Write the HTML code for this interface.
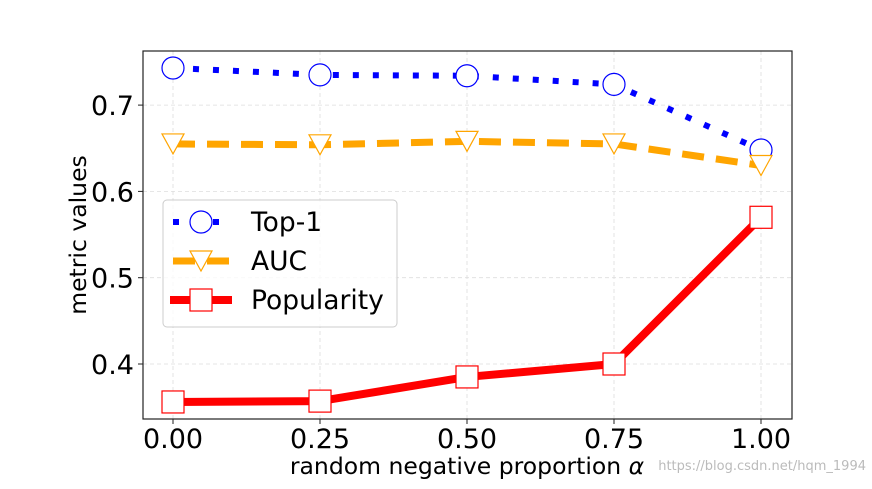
<!DOCTYPE html>
<html><head><meta charset="utf-8"><style>
body{margin:0;background:#fff;width:872px;height:484px;overflow:hidden;font-family:"Liberation Sans","DejaVu Sans",sans-serif}
</style></head><body>
<svg id="chart" width="872" height="484" xmlns="http://www.w3.org/2000/svg" font-family="DejaVu Sans, Liberation Sans, sans-serif">
<g id="grid"></g>
<g id="series"></g>
<rect x="143" y="51" width="649" height="368" fill="none" stroke="#222" stroke-width="1.2"/>
<g id="ticks"></g>
<text x="467" y="474" font-size="23.5" text-anchor="middle">random negative proportion <tspan font-style="italic">α</tspan></text>
<text x="86" y="235" font-size="23.5" text-anchor="middle" transform="rotate(-90 86 235)">metric values</text>
<g>
<rect x="163" y="200" width="234" height="127" rx="4" fill="#fff" fill-opacity="0.8" stroke="#ccc"/>
<g>
<line x1="173" y1="222" x2="229" y2="222" stroke="#0000ff" stroke-width="6" stroke-dasharray="6,14"/>
<circle cx="201" cy="222" r="11" fill="#fff" stroke="#0000ff" stroke-width="1.2"/>
<text x="251" y="231" font-size="26.5">Top-1</text></g>
<g>
<line x1="173" y1="261" x2="229" y2="261" stroke="#ffa500" stroke-width="7" stroke-dasharray="22,12"/>
<polygon points="190,251 212,251 201,271" fill="#fff" stroke="#ffa500" stroke-width="1.2"/>
<text x="251" y="270" font-size="26.5">AUC</text></g>
<g>
<line x1="170" y1="300" x2="232" y2="300" stroke="#ff0000" stroke-width="8"/>
<rect x="190" y="289" width="22" height="22" fill="#fff" stroke="#ff0000" stroke-width="1.2"/>
<text x="251" y="309" font-size="26.5">Popularity</text></g>
</g>
<text x="866" y="470" font-size="13" fill="#bbb" text-anchor="end">https://blog.csdn.net/hqm_1994</text>
</svg>
<script>
const xs=[0,0.25,0.5,0.75,1.0];
const xTickLabels=["0.00","0.25","0.50","0.75","1.00"];
const yTicks=[0.4,0.5,0.6,0.7];
const top1=[0.743,0.735,0.734,0.724,0.648];
const auc=[0.655,0.654,0.658,0.655,0.630];
const popularity=[0.356,0.357,0.385,0.400,0.570];
const X=v=>173+v*588;
const Y=v=>364-(v-0.4)*863;
const NS="http://www.w3.org/2000/svg";
function mk(tag,attrs,parent){const e=document.createElementNS(NS,tag);for(const k in attrs)e.setAttribute(k,attrs[k]);parent.appendChild(e);return e;}
const grid=document.getElementById('grid'),ticks=document.getElementById('ticks'),ser=document.getElementById('series');
xs.forEach((v,i)=>{
 const g=mk('line',{x1:X(v),x2:X(v),y1:51,y2:419,stroke:'#ddd','stroke-dasharray':'4,3','stroke-width':0.8},grid);
 
 
 const t=mk('line',{x1:X(v),x2:X(v),y1:419,y2:424,stroke:'#222'},ticks);
 
 
 const l=mk('text',{x:X(v),y:448,'font-size':27,'text-anchor':'middle'},ticks);l.textContent=xTickLabels[i];
 
 
});
yTicks.forEach(v=>{
 const g=mk('line',{x1:143,x2:792,y1:Y(v),y2:Y(v),stroke:'#ddd','stroke-dasharray':'4,3','stroke-width':0.8},grid);
 
 
 const t=mk('line',{x1:138,x2:143,y1:Y(v),y2:Y(v),stroke:'#222'},ticks);
 
 
 const l=mk('text',{x:134,y:Y(v)+10,'font-size':27,'text-anchor':'end'},ticks);l.textContent=v.toFixed(1);
 
 
});
function pts(arr){return arr.map((v,i)=>X(xs[i])+','+Y(v)).join(' ');}
const l1=mk('polyline',{points:pts(top1),fill:'none',stroke:'#0000ff','stroke-width':6,'stroke-dasharray':'6,14'},ser);


const l2=mk('polyline',{points:pts(auc),fill:'none',stroke:'#ffa500','stroke-width':7,'stroke-dasharray':'22,12'},ser);


const l3=mk('polyline',{points:pts(popularity),fill:'none',stroke:'#ff0000','stroke-width':8,'stroke-linejoin':'round'},ser);


xs.forEach((v,i)=>{
 const c=mk('circle',{cx:X(v),cy:Y(top1[i]),r:11,fill:'#fff',stroke:'#0000ff','stroke-width':1.2},ser);
 
 
 const x=X(v),y=Y(auc[i]);
 const t=mk('polygon',{points:`${x-11},${y-10} ${x+11},${y-10} ${x},${y+10}`,fill:'#fff',stroke:'#ffa500','stroke-width':1.2},ser);
 
 
 const s=mk('rect',{x:X(v)-11,y:Y(popularity[i])-11,width:22,height:22,fill:'#fff',stroke:'#ff0000','stroke-width':1.2},ser);
 
 
});
</script>
</body></html>
